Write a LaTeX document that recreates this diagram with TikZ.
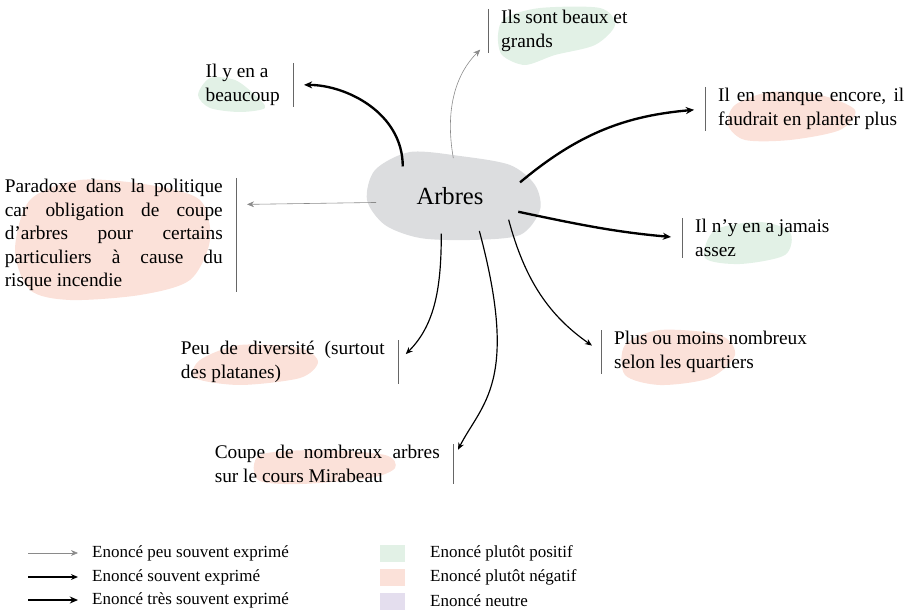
\documentclass[tikz,border=0pt]{standalone}
\usepackage{fontspec}
\setmainfont{Liberation Serif}
\usetikzlibrary{arrows.meta,shapes.geometric,calc}

\definecolor{posgreen}{HTML}{E2F1E6}
\definecolor{negred}{HTML}{FBE1D9}
\definecolor{neutpurple}{HTML}{E4DEEE}
\definecolor{cloudgray}{HTML}{DCDDDF}
\definecolor{bargray}{HTML}{666666}
\definecolor{raregray}{HTML}{8A8A8A}

\begin{document}
\begin{tikzpicture}[x=0.03cm,y=0.03cm,
    lbl/.style={font=\fontsize{16.5}{20}\selectfont, inner xsep=0.39cm, inner ysep=1pt, align=left},
    jlbl/.style={lbl, align=justify, text width=#1},
    bar/.style={draw=bargray, line width=0.8pt},
    rare/.style={-{Stealth[length=6pt,width=5pt]}, draw=raregray, line width=0.5pt, shorten >=0.33cm},
    often/.style={-{Stealth[length=6pt,width=5pt]}, line width=1pt, shorten >=0.33cm},
    veryoften/.style={-{Stealth[length=7pt,width=6pt]}, line width=2pt, shorten >=0.33cm},
    posblob/.style={fill=posgreen, draw=none},
    negblob/.style={fill=negred, draw=none},
    legbox/.style={minimum width=0.75cm, minimum height=0.51cm, inner sep=0pt},
    legtxt/.style={font=\fontsize{14.5}{16}\selectfont, anchor=west, inner sep=0pt}]
    \useasboundingbox (0,0) rectangle (906,610);

    % coloured blobs behind the statements
    \fill[posblob] plot[smooth cycle] coordinates {(505,592) (540,602) (600,602) (615,585) (595,565) (555,555) (525,545) (502,555) (498,575)};
    \fill[posblob] plot[smooth cycle] coordinates {(210,532) (235,530) (255,515) (265,502) (240,498) (210,502) (198,515)};
    \fill[negblob] plot[smooth cycle] coordinates {(735,505) (770,518) (820,515) (855,500) (840,480) (790,470) (745,470) (728,485)};
    \fill[negblob] plot[smooth cycle] coordinates {(30,410) (80,430) (150,425) (200,410) (210,370) (190,330) (140,315) (70,310) (30,320) (15,360)};
    \fill[posblob] plot[smooth cycle] coordinates {(715,380) (760,388) (790,378) (785,355) (740,346) (705,352)};
    \fill[negblob] plot[smooth cycle] coordinates {(625,265) (660,280) (720,275) (735,255) (710,232) (660,225) (625,235)};
    \fill[negblob] plot[smooth cycle] coordinates {(200,250) (240,265) (300,262) (318,248) (300,232) (240,225) (195,232)};
    \fill[negblob] plot[smooth cycle] coordinates {(260,155) (320,160) (385,155) (395,142) (370,132) (300,126) (258,130)};

    % central cloud
    \fill[cloudgray] plot[smooth cycle] coordinates {(375,440) (410,458) (460,454) (510,445) (535,425) (540,400) (520,375) (470,370) (420,372) (385,385) (367,410)};
    \node[ellipse, minimum width=4.5cm, minimum height=2.28cm, outer sep=0pt, font=\fontsize{21}{24}\selectfont] (arbres) at (450,414) {Arbres};

    \node[lbl, anchor=north west] (beaux) at (488,601) {Ils sont beaux et\\grands};
    \node[lbl, anchor=north east] (beaucoup) at (293,547) {Il y en a\\beaucoup};
    \node[jlbl=5.58cm, anchor=north west] (manque) at (705,523) {Il en manque encore, il \linebreak faudrait en planter plus};
    \node[jlbl=6.54cm, anchor=north east] (paradoxe) at (236,432) {Paradoxe dans la politique \linebreak car obligation de coupe \linebreak d’arbres pour certains \linebreak particuliers à cause du \linebreak risque incendie};
    \node[lbl, anchor=north west] (assez) at (682,392) {Il n’y en a jamais\\assez};
    \node[lbl, anchor=north west] (nombreux) at (601,280) {Plus ou moins nombreux\\selon les quartiers};
    \node[jlbl=6.12cm, anchor=north east] (diversite) at (398,270) {Peu de diversité (surtout \linebreak des platanes)};
    \node[jlbl=6.75cm, anchor=north east] (coupe) at (453,166) {Coupe de nombreux arbres \linebreak sur le cours Mirabeau};

    \foreach \n in {beaux,manque,assez,nombreux}
        \draw[bar] (\n.north west) -- (\n.south west);
    \foreach \n in {beaucoup,paradoxe,diversite,coupe}
        \draw[bar] (\n.north east) -- (\n.south east);

    \draw[rare] (arbres.85) to[out=100,in=225] ($(beaux.west)!0.5!(beaux.south west)$);
    \draw[veryoften] (arbres.148) to[out=90,in=0] (beaucoup.east);
    \draw[veryoften] (arbres.11) to[out=40,in=185] (manque.west);
    \draw[rare] (arbres.185) -- (paradoxe.14);
    \draw[veryoften] (arbres.-13) to[out=-12,in=175] (assez.west);
    \draw[often] (arbres.-22) to[out=-75,in=145] (nombreux.west);
    \draw[often] (arbres.-50) to[out=-75,in=63,out looseness=1.75,in looseness=0.7] (coupe.2);
    \draw[often] (arbres.-103) to[out=-90,in=45] (diversite.east);

    % legend
    \coordinate (lgrare0) at (28,57);
    \coordinate (lgoften0) at (28,33);
    \coordinate (lgveryoften0) at (28,10);
    \node[legtxt] (lgrare) at (92,57) {Enoncé peu souvent exprimé};
    \node[legtxt] (lgoften) at (92,33) {Enoncé souvent exprimé};
    \node[legtxt] (lgveryoften) at (92,10) {Enoncé très souvent exprimé};
    \draw[rare, shorten >=0.42cm] (lgrare0) -- (lgrare.west);
    \draw[often, shorten >=0.42cm] (lgoften0) -- (lgoften.west);
    \draw[veryoften, shorten >=0.42cm] (lgveryoften0) -- (lgveryoften.west);

    \node[legbox, fill=posgreen] (lgpos) at (392.5,56.5) {};
    \node[legbox, fill=negred] (lgneg) at (392.5,32.5) {};
    \node[legbox, fill=neutpurple] (lgneut) at (392.5,8.5) {};
    \node[legtxt] (lgpostxt) at (430,57) {Enoncé plutôt positif};
    \node[legtxt] (lgnegtxt) at (430,33) {Enoncé plutôt négatif};
    \node[legtxt] (lgneuttxt) at (430,9) {Enoncé neutre};
\end{tikzpicture}
\end{document}
